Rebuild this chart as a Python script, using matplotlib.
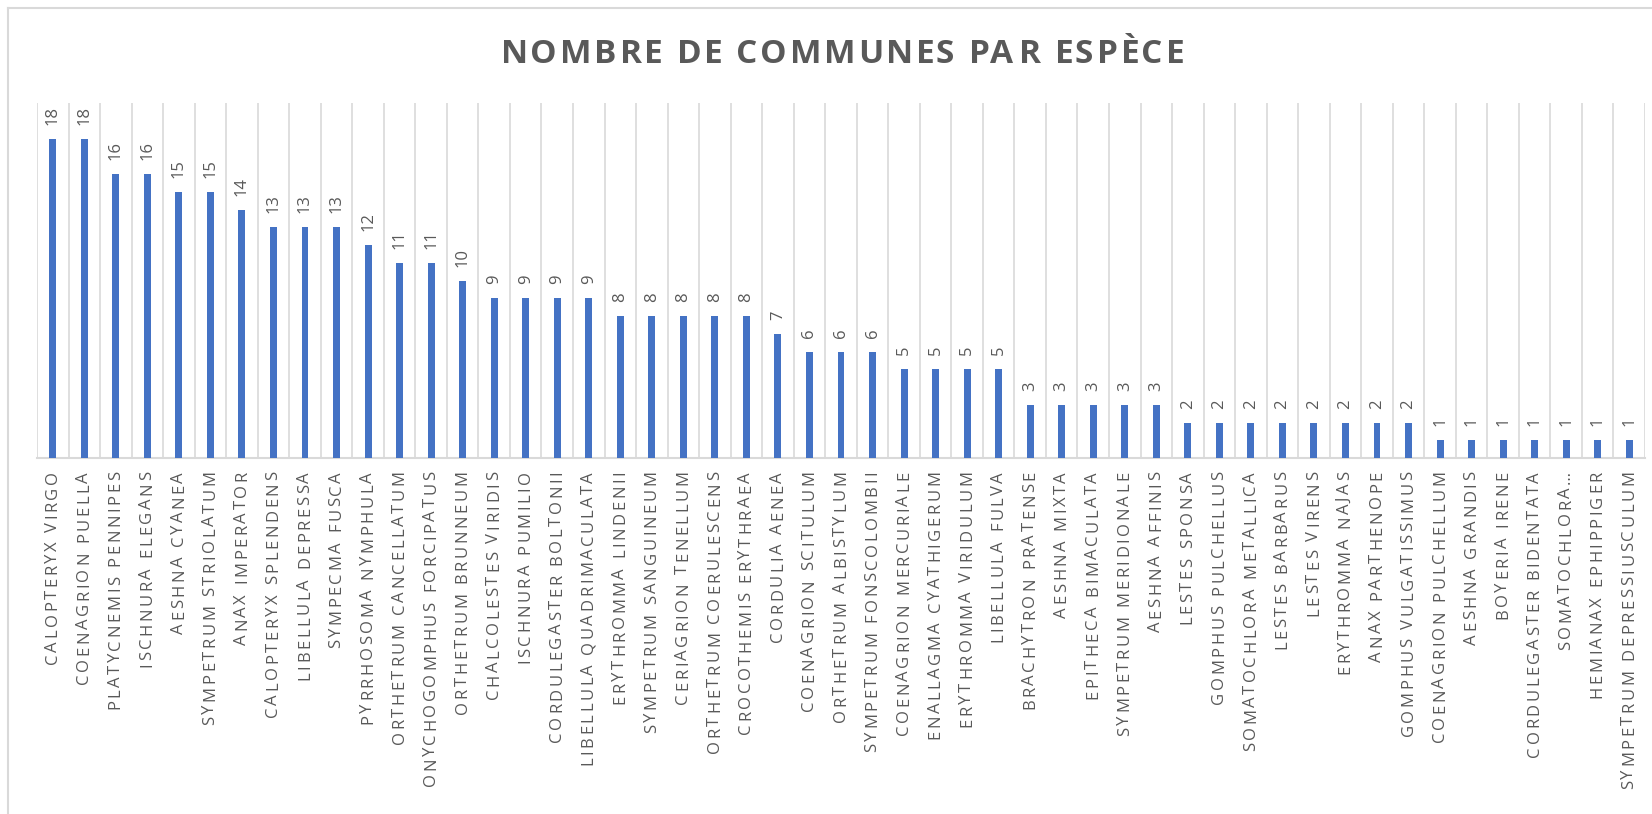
import matplotlib
matplotlib.use("Agg")
import numpy as np
import matplotlib.pyplot as plt
from matplotlib.lines import Line2D
from matplotlib.text import Text
from matplotlib.transforms import Affine2D, offset_copy
from matplotlib.font_manager import findfont, get_font

species = [
    "CALOPTERYX VIRGO", "COENAGRION PUELLA", "PLATYCNEMIS PENNIPES", "ISCHNURA ELEGANS",
    "AESHNA CYANEA", "SYMPETRUM STRIOLATUM", "ANAX IMPERATOR", "CALOPTERYX SPLENDENS",
    "LIBELLULA DEPRESSA", "SYMPECMA FUSCA", "PYRRHOSOMA NYMPHULA", "ORTHETRUM CANCELLATUM",
    "ONYCHOGOMPHUS FORCIPATUS", "ORTHETRUM BRUNNEUM", "CHALCOLESTES VIRIDIS", "ISCHNURA PUMILIO",
    "CORDULEGASTER BOLTONII", "LIBELLULA QUADRIMACULATA", "ERYTHROMMA LINDENII",
    "SYMPETRUM SANGUINEUM", "CERIAGRION TENELLUM", "ORTHETRUM COERULESCENS",
    "CROCOTHEMIS ERYTHRAEA", "CORDULIA AENEA", "COENAGRION SCITULUM", "ORTHETRUM ALBISTYLUM",
    "SYMPETRUM FONSCOLOMBII", "COENAGRION MERCURIALE", "ENALLAGMA CYATHIGERUM",
    "ERYTHROMMA VIRIDULUM", "LIBELLULA FULVA", "BRACHYTRON PRATENSE", "AESHNA MIXTA",
    "EPITHECA BIMACULATA", "SYMPETRUM MERIDIONALE", "AESHNA AFFINIS", "LESTES SPONSA",
    "GOMPHUS PULCHELLUS", "SOMATOCHLORA METALLICA", "LESTES BARBARUS", "LESTES VIRENS",
    "ERYTHROMMA NAJAS", "ANAX PARTHENOPE", "GOMPHUS VULGATISSIMUS", "COENAGRION PULCHELLUM",
    "AESHNA GRANDIS", "BOYERIA IRENE", "CORDULEGASTER BIDENTATA", "SOMATOCHLORA…",
    "HEMIANAX EPHIPPIGER", "SYMPETRUM DEPRESSIUSCULUM",
]
communes = [
    18, 18, 16, 16, 15, 15, 14, 13, 13, 13, 12, 11, 11, 10, 9, 9, 9, 9,
    8, 8, 8, 8, 8, 7, 6, 6, 6, 5, 5, 5, 5, 3, 3, 3, 3, 3,
    2, 2, 2, 2, 2, 2, 2, 2, 1, 1, 1, 1, 1, 1, 1,
]
title = "NOMBRE DE COMMUNES PAR ESPÈCE"

BAR = "#4472C4"
TEXT = "#595959"
GRID = "#D9D9D9"
FONT = ["Open Sans", "DejaVu Sans"]


class TrackedText(Text):
    """Text drawn with extra letter spacing (tracking, in points)."""

    def __init__(self, *args, tracking=0.0, **kwargs):
        super().__init__(*args, **kwargs)
        self._tracking = tracking

    def _metrics(self, renderer):
        prop = self.get_fontproperties()
        font = get_font(findfont(prop))
        font.set_size(prop.get_size_in_points(), renderer.dpi)
        adv, bear = [], []
        for c in self.get_text():
            g = font.load_char(ord(c))
            adv.append(g.linearHoriAdvance / 65536)
            bear.append(g.horiBearingX / 64)
        return adv, bear

    def draw(self, renderer):
        s = self.get_text()
        if not self.get_visible() or not s:
            return
        adv, bear = self._metrics(renderer)
        track = self._tracking * renderer.dpi / 72
        total = sum(adv) + track * (len(s) - 1)
        ang = np.deg2rad(self.get_rotation())
        ux, uy = np.cos(ang), np.sin(ang)
        ha = self.get_horizontalalignment()
        pos = {"left": 0.0, "center": -total / 2, "right": -total}[ha]
        base = self.get_transform()
        for c, a, b in zip(s, adv, bear):
            if not c.isspace():
                off = pos + b
                tr = base + Affine2D().translate(off * ux, off * uy)
                with self._cm_set(text=c, horizontalalignment="left", transform=tr):
                    super().draw(renderer)
            pos += a + track
        self.stale = False


W, H = 1652, 814
fig = plt.figure(figsize=(W / 100, H / 100), dpi=100)
fig.patch.set_facecolor("white")

# chart frame (left and top edges)
fig.add_artist(Line2D([8 / W, 8 / W], [0, 1 - 8 / H], transform=fig.transFigure,
                      color=GRID, lw=1.5))
fig.add_artist(Line2D([8 / W, 1], [1 - 8 / H, 1 - 8 / H], transform=fig.transFigure,
                      color=GRID, lw=1.5))

left, right, top, bottom = 37, 1645, 103, 458
ax = fig.add_axes([left / W, 1 - bottom / H, (right - left) / W, (bottom - top) / H])

n = len(species)
x = list(range(n))
ax.set_xlim(-0.5, n - 0.5)
ax.set_ylim(0, 20)

# category separators
ax.vlines([i - 0.5 for i in range(n + 1)], 0, 20, colors=GRID, lw=1.2, zorder=1)

ax.bar(x, communes, width=0.22, color=BAR, zorder=3)

for xi, v in zip(x, communes):
    ax.annotate(str(v), (xi, v), xytext=(0, 10), textcoords="offset points",
                rotation=90, ha="center", va="bottom", fontsize=12,
                color=TEXT, family=FONT)

for s in ("top", "right", "left"):
    ax.spines[s].set_visible(False)
ax.spines["bottom"].set_color(GRID)
ax.spines["bottom"].set_linewidth(1.5)
ax.set_yticks([])
ax.set_xticks(x)
ax.set_xticklabels([])
ax.tick_params(axis="x", length=0)

# category labels, rotated and letter-spaced
label_tr = offset_copy(ax.get_xaxis_transform(), fig=fig, x=0, y=-14, units="dots")
for xi, name in zip(x, species):
    t = TrackedText(xi, 0, name, tracking=1.85, rotation=90, rotation_mode="anchor",
                    ha="right", va="center", fontsize=12, color=TEXT, family=FONT,
                    transform=label_tr, clip_on=False)
    ax.add_artist(t)

fig.add_artist(TrackedText(840 / W, 1 - 63 / H, title, tracking=1.9,
                           transform=fig.transFigure, ha="center", va="baseline",
                           fontsize=24, fontweight="bold", color=TEXT, family=FONT))

fig.savefig("out.png", dpi=100, facecolor="white")
